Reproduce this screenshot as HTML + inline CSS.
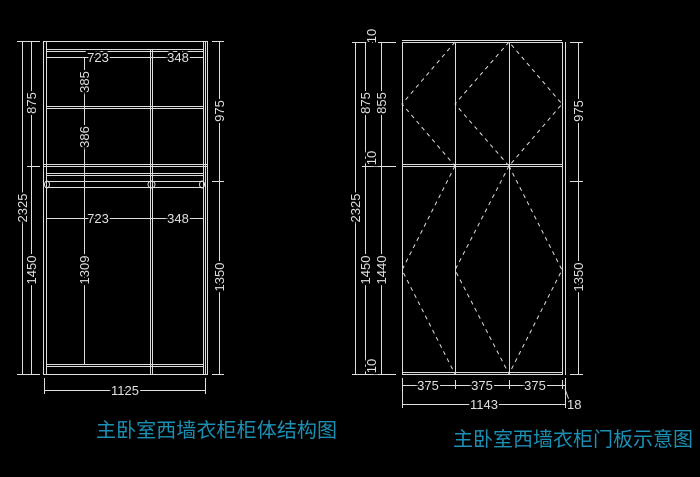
<!DOCTYPE html>
<html><head><meta charset="utf-8"><style>
html,body{margin:0;padding:0;background:#000;width:700px;height:477px;overflow:hidden}
svg{display:block}
.l{stroke:#ddd;stroke-width:1;fill:none}
.d{stroke:#ddd;stroke-width:1;fill:none;stroke-dasharray:4 4}
text.t{fill:#e0e0e0;font-family:"Liberation Sans",sans-serif;font-size:13px;stroke:#000;stroke-width:4;paint-order:stroke}
text.c{fill:#1b90b4;font-family:"Liberation Sans","Noto Sans CJK SC",sans-serif;font-size:20px}
</style></head><body>
<svg width="700" height="477" viewBox="0 0 700 477" xmlns="http://www.w3.org/2000/svg">
<!-- LEFT CABINET -->
<g class="l">
<rect x="43.5" y="41.5" width="164" height="333"/>
<line x1="46.5" y1="41" x2="46.5" y2="374"/>
<line x1="203.5" y1="41" x2="203.5" y2="374"/>
<line x1="205.5" y1="41" x2="205.5" y2="374"/>
<line x1="150.5" y1="49" x2="150.5" y2="374"/>
<line x1="152.5" y1="49" x2="152.5" y2="374"/>
<line x1="46" y1="49.5" x2="203" y2="49.5"/>
<line x1="46" y1="51.5" x2="203" y2="51.5"/>
<line x1="46" y1="106.5" x2="203" y2="106.5"/>
<line x1="46" y1="108.5" x2="203" y2="108.5"/>
<line x1="44" y1="164.5" x2="207" y2="164.5"/>
<line x1="44" y1="166.5" x2="207" y2="166.5"/>
<line x1="46" y1="173.5" x2="203" y2="173.5"/>
<line x1="46" y1="175.5" x2="203" y2="175.5"/>
<line x1="46" y1="181.5" x2="203" y2="181.5"/>
<line x1="46" y1="187.5" x2="203" y2="187.5"/>
<ellipse cx="47" cy="184.5" rx="2.5" ry="3.5"/>
<ellipse cx="151.5" cy="184.5" rx="3.5" ry="3.5"/>
<ellipse cx="202" cy="184.5" rx="2.5" ry="3.5"/>
<line x1="46" y1="364.5" x2="203" y2="364.5"/>
<line x1="46" y1="366.5" x2="203" y2="366.5"/>
<!-- dims -->
<line x1="46" y1="57.5" x2="203" y2="57.5"/>
<line x1="46" y1="218.5" x2="203" y2="218.5"/>
<line x1="84.5" y1="58" x2="84.5" y2="364"/>
<line x1="22.5" y1="41" x2="22.5" y2="374"/>
<line x1="31.5" y1="41" x2="31.5" y2="374"/>
<line x1="219.5" y1="41" x2="219.5" y2="374"/>
<line x1="17" y1="41.5" x2="40" y2="41.5"/>
<line x1="17" y1="374.5" x2="40" y2="374.5"/>
<line x1="27" y1="166.5" x2="40" y2="166.5"/>
<line x1="212" y1="41.5" x2="224" y2="41.5"/>
<line x1="212" y1="181.5" x2="224" y2="181.5"/>
<line x1="212" y1="374.5" x2="224" y2="374.5"/>
<line x1="44.5" y1="378" x2="44.5" y2="394"/>
<line x1="205.5" y1="378" x2="205.5" y2="394"/>
<line x1="44" y1="390.5" x2="205" y2="390.5"/>
</g>
<g>
<text class="t" x="98" y="62" text-anchor="middle">723</text>
<text class="t" x="178" y="62" text-anchor="middle">348</text>
<text class="t" x="98" y="223" text-anchor="middle">723</text>
<text class="t" x="178" y="223" text-anchor="middle">348</text>
<text class="t" x="125" y="395" text-anchor="middle">1125</text>
<text class="t" transform="translate(89,82) rotate(-90)" text-anchor="middle">385</text>
<text class="t" transform="translate(89,137) rotate(-90)" text-anchor="middle">386</text>
<text class="t" transform="translate(89,270) rotate(-90)" text-anchor="middle">1309</text>
<text class="t" transform="translate(27,208) rotate(-90)" text-anchor="middle">2325</text>
<text class="t" transform="translate(36,103) rotate(-90)" text-anchor="middle">875</text>
<text class="t" transform="translate(36,270) rotate(-90)" text-anchor="middle">1450</text>
<text class="t" transform="translate(224,111) rotate(-90)" text-anchor="middle">975</text>
<text class="t" transform="translate(224,277) rotate(-90)" text-anchor="middle">1350</text>
</g>
<!-- RIGHT CABINET -->
<g class="l">
<rect x="402.5" y="42.5" width="160" height="332"/>
<line x1="565.5" y1="42" x2="565.5" y2="375"/>
<line x1="402" y1="40.5" x2="562" y2="40.5"/>
<line x1="402" y1="164.5" x2="562" y2="164.5"/>
<line x1="402" y1="166.5" x2="562" y2="166.5"/>
<line x1="402" y1="372.5" x2="562" y2="372.5"/>
<line x1="455.5" y1="42" x2="455.5" y2="374"/>
<line x1="509.5" y1="42" x2="509.5" y2="374"/>
<!-- dims -->
<line x1="355.5" y1="42" x2="355.5" y2="374"/>
<line x1="365.5" y1="42" x2="365.5" y2="374"/>
<line x1="381.5" y1="42" x2="381.5" y2="374"/>
<line x1="352" y1="42.5" x2="396" y2="42.5"/>
<line x1="362" y1="166.5" x2="396" y2="166.5"/>
<line x1="352" y1="374.5" x2="396" y2="374.5"/>
<line x1="578.5" y1="42" x2="578.5" y2="374"/>
<line x1="570" y1="42.5" x2="583" y2="42.5"/>
<line x1="570" y1="181.5" x2="583" y2="181.5"/>
<line x1="570" y1="374.5" x2="583" y2="374.5"/>
<line x1="402" y1="385.5" x2="565" y2="385.5"/>
<line x1="402" y1="404.5" x2="565" y2="404.5"/>
<line x1="402.5" y1="378" x2="402.5" y2="408"/>
<line x1="455.5" y1="380" x2="455.5" y2="389"/>
<line x1="509.5" y1="380" x2="509.5" y2="389"/>
<line x1="562.5" y1="380" x2="562.5" y2="389"/>
<line x1="565.5" y1="378" x2="565.5" y2="408"/>
<line x1="565" y1="389" x2="569" y2="400"/>
</g>
<g class="d">
<polyline points="455,42 402,104 455,166"/>
<polygon points="509,42 455,104 509,166 562,104"/>
<polyline points="455,166 402,270 455,374"/>
<polyline points="509,166 455,270 509,374 562,270 509,166"/>
</g>
<g>
<text class="t" x="428" y="390" text-anchor="middle">375</text>
<text class="t" x="482" y="390" text-anchor="middle">375</text>
<text class="t" x="535" y="390" text-anchor="middle">375</text>
<text class="t" x="484" y="409" text-anchor="middle">1143</text>
<text class="t" x="567" y="409">18</text>
<text class="t" transform="translate(360,208) rotate(-90)" text-anchor="middle">2325</text>
<text class="t" transform="translate(370,103) rotate(-90)" text-anchor="middle">875</text>
<text class="t" transform="translate(370,270) rotate(-90)" text-anchor="middle">1450</text>
<text class="t" transform="translate(386,103) rotate(-90)" text-anchor="middle">855</text>
<text class="t" transform="translate(386,270) rotate(-90)" text-anchor="middle">1440</text>
<text class="t" transform="translate(376,36) rotate(-90)" text-anchor="middle">10</text>
<text class="t" transform="translate(376,158) rotate(-90)" text-anchor="middle">10</text>
<text class="t" transform="translate(376,366) rotate(-90)" text-anchor="middle">10</text>
<text class="t" transform="translate(583,111) rotate(-90)" text-anchor="middle">975</text>
<text class="t" transform="translate(583,277) rotate(-90)" text-anchor="middle">1350</text>
</g>
<text class="c" x="96" y="437" textLength="241">主卧室西墙衣柜柜体结构图</text>
<text class="c" x="453" y="446" textLength="240">主卧室西墙衣柜门板示意图</text>
</svg>
</body></html>
